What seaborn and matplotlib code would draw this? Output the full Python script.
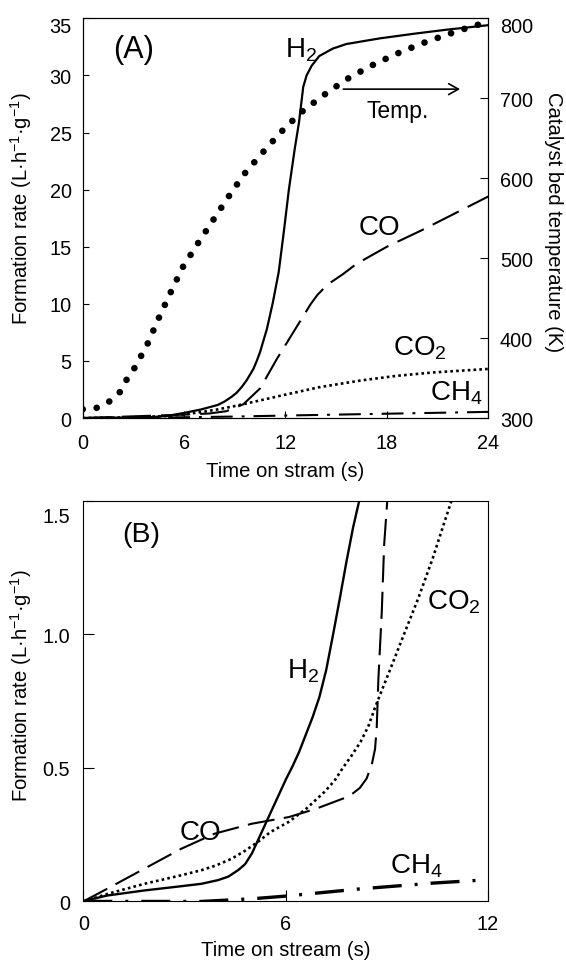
import matplotlib
matplotlib.use("Agg")
import matplotlib.pyplot as plt
from matplotlib.transforms import ScaledTranslation
import seaborn as sns

# ---------------- Panel A data (0-24 s) ----------------
a_h2_t = [0, 2, 4, 5, 6, 7, 7.5, 8, 8.4, 8.8, 9.1, 9.4, 9.7, 10.1, 10.3, 10.5, 10.9, 11.25,
          11.6, 11.9, 12.2, 12.55, 12.8, 13.05, 13.25, 13.55, 14.0, 14.8, 15.6, 17.6,
          19.6, 21.5, 24]
a_h2_y = [0, 0.03, 0.08, 0.18, 0.45, 0.75, 0.95, 1.15, 1.45, 1.85, 2.2, 2.7, 3.3, 4.3, 5.0,
          5.8, 7.8, 10.1, 12.8, 16.3, 20.0, 23.6, 25.9, 29.0, 30.0, 30.85, 31.7, 32.35,
          32.75, 33.25, 33.65, 34.0, 34.4]

a_co_t = [0, 3, 6, 7.5, 8.5, 9.5, 10.5, 11.5, 12.5, 13.5, 13.9, 14.3, 14.7, 15.4, 16.2,
          18, 20, 22, 24]
a_co_y = [0, 0.15, 0.3, 0.4, 0.6, 1.2, 2.6, 5.2, 7.6, 10.0, 10.8, 11.4, 11.9, 12.6, 13.5,
          15.0, 16.4, 17.9, 19.4]

a_co2_t = [0, 3, 5, 6, 7, 8, 9, 10, 12, 14, 16.5, 18.6, 20.8, 24]
a_co2_y = [0, 0.07, 0.18, 0.32, 0.52, 0.76, 1.05, 1.38, 2.05, 2.7, 3.3, 3.7, 4.0, 4.3]

a_ch4_t = [0, 3, 6, 9, 12, 15, 18, 21, 24]
a_ch4_y = [0, 0.02, 0.07, 0.13, 0.22, 0.3, 0.38, 0.46, 0.54]

a_temp_t = [0, 0.8, 1.6, 2.2, 2.6, 3.05, 3.8, 4.5, 5.2, 5.9, 6.8, 7.7, 8.6, 9.55, 10.6,
            11.7, 12.9, 14.2, 15.55, 17.0, 18.5, 20.0, 21.6, 23.2, 24]
a_temp_k = [311, 312.5, 321, 332.5, 348, 362, 391, 425, 457, 488, 518, 547, 576, 605, 631,
            657, 682, 703, 723, 740, 755, 768, 780, 791, 795]

a_xticks = [0, 6, 12, 18, 24]
a_yticks = [0, 5, 10, 15, 20, 25, 30, 35]
a_tticks = [300, 400, 500, 600, 700, 800]

# ---------------- Panel B data (0-12 s) ----------------
b_h2_t = [0, 0.3, 0.7, 1.8, 2.9, 3.5, 4.0, 4.3, 4.6, 4.8, 5.0, 5.2, 5.4, 5.6, 5.8, 6.0,
          6.2, 6.4, 6.6, 6.8, 7.0, 7.2, 7.4, 7.6, 7.8, 8.0, 8.2, 8.3]
b_h2_y = [0, 0.01, 0.022, 0.041, 0.057, 0.066, 0.08, 0.093, 0.118, 0.14, 0.18, 0.235, 0.29,
          0.345, 0.40, 0.455, 0.505, 0.56, 0.625, 0.69, 0.765, 0.865, 0.995, 1.13, 1.27,
          1.40, 1.51, 1.57]

b_co_t = [0, 0.7, 1.8, 2.9, 3.9, 5.0, 6.1, 6.9, 7.7, 8.0, 8.2, 8.4, 8.55, 8.65, 8.7, 8.75,
          8.85, 8.92, 9.03]
b_co_y = [0, 0.047, 0.122, 0.197, 0.254, 0.291, 0.316, 0.347, 0.385, 0.405, 0.425, 0.46,
          0.51, 0.57, 0.65, 0.834, 1.084, 1.334, 1.53]

b_co2_t = [0, 0.74, 1.81, 2.87, 3.5, 3.94, 4.4, 4.8, 5.2, 5.55, 6.08, 6.61, 7.15, 7.45,
           7.68, 7.95, 8.22, 8.45, 8.64, 8.85, 9.07, 9.5, 9.93, 10.36, 10.68, 10.97]
b_co2_y = [0, 0.029, 0.066, 0.097, 0.117, 0.135, 0.16, 0.19, 0.225, 0.26, 0.297, 0.347,
           0.41, 0.452, 0.497, 0.545, 0.597, 0.655, 0.722, 0.79, 0.859, 0.997, 1.134,
           1.284, 1.409, 1.52]

b_ch4_t = [0, 2, 3.5, 5, 6, 8.2, 10.4, 11.7]
b_ch4_y = [0, 0.0, 0.0, 0.01, 0.02, 0.047, 0.069, 0.079]

b_xticks = [0, 6, 12]
b_yticks = [0, 0.5, 1.0, 1.5]
b_ytick_labels = ["0", "0.5", "1.0", "1.5"]

# ---------------- style ----------------
sns.set_style("ticks")
plt.rcParams["font.family"] = ["Liberation Sans", "DejaVu Sans"]
plt.rcParams["mathtext.fontset"] = "custom"
plt.rcParams["mathtext.rm"] = "Liberation Sans"
plt.rcParams["mathtext.it"] = "Liberation Sans:italic"
plt.rcParams["mathtext.bf"] = "Liberation Sans:bold"
plt.rcParams["axes.linewidth"] = 0.8
plt.rcParams["axes.edgecolor"] = "black"
plt.rcParams["axes.labelcolor"] = "black"
plt.rcParams["text.color"] = "black"
plt.rcParams["xtick.color"] = "black"
plt.rcParams["ytick.color"] = "black"

TICK_FS = 14.3
LABEL_FS = 14.6
NOTE_FS = 20
K = "black"

fig = plt.figure(figsize=(5.66, 9.62), dpi=100)
fig.patch.set_facecolor("white")

axA = fig.add_axes([0.1461, 0.5644, 0.7166, 0.4155])
axT = axA.twinx()
axB = fig.add_axes([0.1472, 0.0619, 0.7150, 0.4166])

# ---------------- Panel A ----------------
sns.lineplot(x=a_h2_t, y=a_h2_y, ax=axA, color=K, linewidth=1.6, legend=False)
sns.lineplot(x=a_co_t, y=a_co_y, ax=axA, color=K, linewidth=1.5,
             linestyle=(0, (14, 4.8)), legend=False)
sns.lineplot(x=a_co2_t, y=a_co2_y, ax=axA, color=K, linewidth=1.9,
             linestyle=(0, (1, 1.2)), legend=False)
sns.lineplot(x=a_ch4_t, y=a_ch4_y, ax=axA, color=K, linewidth=1.5,
             linestyle=(0, (10.5, 4.3, 1.4, 4.3)), legend=False)
sns.lineplot(x=a_temp_t, y=a_temp_k, ax=axT, color=K, linewidth=4.8,
             linestyle=(0, (0.01, 2.1)), dash_capstyle="round", legend=False)

axA.set_xlim(0, 24)
axA.set_ylim(0, 35)
axT.set_ylim(300, 800)
axA.set_xticks(a_xticks)
axA.set_yticks(a_yticks)
axT.set_yticks(a_tticks)
axA.set_xticklabels([str(v) for v in a_xticks])
axA.set_yticklabels([str(v) for v in a_yticks])
axT.set_yticklabels([str(v) for v in a_tticks])

axA.tick_params(axis="x", direction="in", length=5, width=0.8, labelsize=TICK_FS, pad=11)
axA.tick_params(axis="y", direction="in", length=4.5, width=0.8, labelsize=TICK_FS, pad=8)
axT.tick_params(axis="y", direction="in", length=5.5, width=0.8, labelsize=TICK_FS, pad=8.4)

axA.set_xlabel("Time on stram (s)", fontsize=LABEL_FS, labelpad=6)
axA.set_ylabel("Formation rate (L·h$^{\\mathregular{-1}}$·g$^{\\mathregular{-1}}$)",
               fontsize=LABEL_FS)
axA.yaxis.set_label_coords(-0.12, 0.527)
axT.set_ylabel("Catalyst bed temperature (K)", fontsize=LABEL_FS, rotation=270, va="bottom")
axT.yaxis.set_label_coords(1.137, 0.494)

for sp in list(axA.spines.values()) + list(axT.spines.values()):
    sp.set_visible(True)
    sp.set_color(K)
    sp.set_linewidth(0.8)

axA.text(1.81, 31.6, "(A)", fontsize=22, ha="left", va="baseline")
axA.text(11.97, 31.7, "H$_\\mathregular{2}$", fontsize=NOTE_FS, ha="left", va="baseline")
axA.text(16.8, 26.4, "Temp.", fontsize=16.5, ha="left", va="baseline")
axA.annotate("", xy=(22.33, 28.8), xytext=(15.42, 28.8),
             arrowprops=dict(arrowstyle="->,head_length=0.5,head_width=0.28",
                             lw=1.2, color=K, shrinkA=0, shrinkB=0, mutation_scale=14))
axA.text(16.31, 16.1, "CO", fontsize=NOTE_FS, ha="left", va="baseline")
axA.text(18.38, 5.6, "CO$_\\mathregular{2}$", fontsize=NOTE_FS, ha="left", va="baseline")
axA.text(20.55, 1.66, "CH$_\\mathregular{4}$", fontsize=NOTE_FS, ha="left", va="baseline")

# ---------------- Panel B ----------------
sns.lineplot(x=b_h2_t, y=b_h2_y, ax=axB, color=K, linewidth=1.7, legend=False)
sns.lineplot(x=b_co_t, y=b_co_y, ax=axB, color=K, linewidth=1.5,
             linestyle=(0, (13, 4.5)), legend=False)
sns.lineplot(x=b_co2_t, y=b_co2_y, ax=axB, color=K, linewidth=1.9,
             linestyle=(0, (1, 1.2)), legend=False)
sns.lineplot(x=b_ch4_t, y=b_ch4_y, ax=axB, color=K, linewidth=2.4,
             linestyle=(0, (8.7, 3.9, 0.9, 3.9)), legend=False)

axB.set_xlim(0, 12)
axB.set_ylim(0, 1.5)
axB.set_xticks(b_xticks)
axB.set_xticklabels([str(v) for v in b_xticks])
axB.set_yticks(b_yticks)
axB.set_yticklabels(b_ytick_labels)
axB.tick_params(axis="x", direction="in", length=8, width=0.8, labelsize=TICK_FS, pad=9)
axB.tick_params(axis="y", direction="in", length=8, width=0.8, labelsize=TICK_FS, pad=9.5)
axB.set_xlabel("Time on stream (s)", fontsize=LABEL_FS, labelpad=5)
axB.set_ylabel("Formation rate (L·h$^{\\mathregular{-1}}$·g$^{\\mathregular{-1}}$)",
               fontsize=LABEL_FS)
axB.yaxis.set_label_coords(-0.122, 0.54)
for sp in axB.spines.values():
    sp.set_visible(True)
    sp.set_color(K)
    sp.set_linewidth(0.8)

axB.text(1.14, 1.35, "(B)", fontsize=20.5, ha="left", va="baseline")
axB.text(6.03, 0.839, "H$_\\mathregular{2}$", fontsize=NOTE_FS, ha="left", va="baseline")
axB.text(10.2, 1.095, "CO$_\\mathregular{2}$", fontsize=NOTE_FS, ha="left", va="baseline")
axB.text(2.86, 0.234, "CO", fontsize=NOTE_FS, ha="left", va="baseline")
axB.text(9.08, 0.109, "CH$_\\mathregular{4}$", fontsize=NOTE_FS, ha="left", va="baseline")

# nudge the topmost tick labels down, as in the reference
def nudge(tick, label_attr, dy_px):
    lbl = getattr(tick, label_attr)
    lbl.set_transform(lbl.get_transform() + ScaledTranslation(0, -dy_px / 100.0, fig.dpi_scale_trans))

nudge(axA.yaxis.get_major_ticks()[-1], "label1", 6)
nudge(axT.yaxis.get_major_ticks()[-1], "label2", 6)
nudge(axB.yaxis.get_major_ticks()[-1], "label1", 14)

fig.savefig("out.png", dpi=100, facecolor="white")
